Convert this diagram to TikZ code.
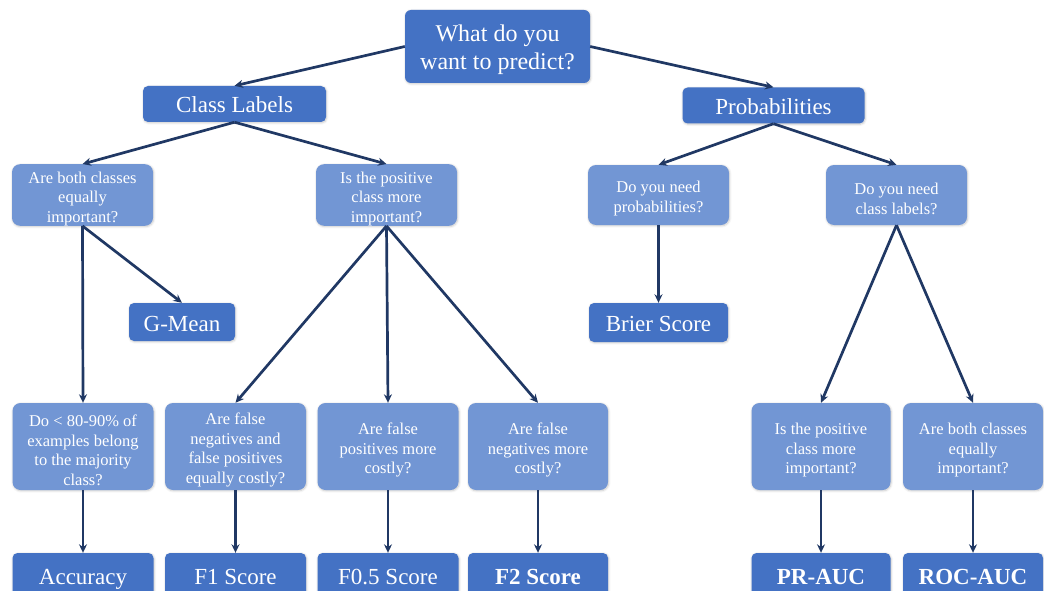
\documentclass[tikz,border=0pt]{standalone}
\usepackage{fontspec}
\setmainfont{Liberation Serif}
\usetikzlibrary{arrows.meta,shadows.blur}
\definecolor{boxdark}{RGB}{68,114,196}
\definecolor{boxlight}{RGB}{114,150,212}
\definecolor{linknavy}{RGB}{32,56,100}
% invisible struts that lower the text block of the multi-line boxes a little
\newcommand\asktop{\rule{0pt}{19pt}}
\newcommand\roottop{\rule{0pt}{24pt}}
\tikzset{
  base/.style={rectangle, text=white, inner sep=0pt, anchor=center,
    blur shadow={shadow blur steps=6, shadow xshift=0.6pt, shadow yshift=-0.8pt,
      shadow opacity=22, shadow blur radius=2.2pt}},
  topic/.style={base, fill=boxdark, rounded corners=5pt,
    font=\fontsize{23}{27}\selectfont, text height=22pt, text depth=4pt},
  ask/.style={base, fill=boxlight, rounded corners=8pt,
    font=\fontsize{16.5}{19.5}\selectfont, align=center},
  qsize/.style={minimum width=141pt, minimum height=60pt},
  rsize/.style={minimum width=141pt, minimum height=87pt},
  msize/.style={minimum width=141pt, minimum height=44pt},
  link/.style={draw=linknavy, line width=2.7pt, -{Stealth[length=8.5pt,width=8pt]}},
}
\begin{document}
\begin{tikzpicture}[x=1pt,y=-1pt]
\useasboundingbox (0,0) rectangle (1044,591);

% root question
\node[base, fill=boxdark, rounded corners=6pt, minimum width=185pt, minimum height=73pt,
  font=\fontsize{24}{28}\selectfont, align=center] (root) at (497.5,46.5)
  {\roottop What do you\\want to predict?};

% first split
\node[topic, minimum width=183pt, minimum height=36pt] (cl) at (234.5,104) {Class Labels};
\node[topic, minimum width=182pt, minimum height=36pt] (pr) at (773.5,105.5) {Probabilities};

% second level questions
\node[ask, qsize] (q1) at (82.5,195) {\asktop Are both classes\\equally\\important?};
\node[ask, qsize] (q2) at (386.5,195) {\asktop Is the positive\\class more\\important?};
\node[ask, qsize] (q3) at (658.5,195) {\asktop Do you need\\probabilities?};
\node[ask, qsize] (q4) at (896.5,195) {\asktop Do you need\\class labels?};

% middle metrics
\node[topic, minimum width=106pt, minimum height=38pt] (gm) at (182,322) {G-Mean};
\node[topic, minimum width=139pt, minimum height=39pt] (bs) at (658.5,322.5) {Brier Score};

% third level questions
\node[ask, rsize] (q5) at (83,446.5) {\asktop Do < 80-90\% of\\examples belong\\to the majority\\class?};
\node[ask, rsize] (q6) at (235.5,446.5) {\asktop Are false\\negatives and\\false positives\\equally costly?};
\node[ask, rsize] (q7) at (388,446.5) {\asktop Are false\\positives more\\costly?};
\node[ask, rsize, minimum width=140pt] (q8) at (538,446.5) {\asktop Are false\\negatives more\\costly?};
\node[ask, rsize, minimum width=139pt] (q9) at (821,446.5) {\asktop Is the positive\\class more\\important?};
\node[ask, rsize, minimum width=140pt] (q10) at (973,446.5) {\asktop Are both classes\\equally\\important?};

% final metrics
\node[topic, msize] (m1) at (83,575) {Accuracy};
\node[topic, msize] (m2) at (235.5,575) {F1 Score};
\node[topic, msize] (m3) at (388,575) {F0.5 Score};
\node[topic, msize, minimum width=140pt] (m4) at (538,575) {\textbf{F2 Score}};
\node[topic, msize, minimum width=139pt] (m5) at (821,575) {\textbf{PR-AUC}};
\node[topic, msize, minimum width=140pt] (m6) at (973,575) {\textbf{ROC-AUC}};

% connectors
\draw[link] (root.west) -- (cl.north);
\draw[link] (root.east) -- (pr.north);
\draw[link] (cl.south) -- (q1.north);
\draw[link] (cl.south) -- (q2.north);
\draw[link] (pr.south) -- (q3.north);
\draw[link] (pr.south) -- (q4.north);
\draw[link] (q1.south) -- (gm.north);
\draw[link] (q1.south) -- (q5.north);
\draw[link] (q2.south) -- (q6.north);
\draw[link] (q2.south) -- (q7.north);
\draw[link] (q2.south) -- (q8.north);
\draw[link] (q3.south) -- (bs.north);
\draw[link] (q4.south) -- (q9.north);
\draw[link] (q4.south) -- (q10.north);
\draw[link] (q5.south) -- (m1.north);
\draw[link] (q6.south) -- (m2.north);
\draw[link] (q7.south) -- (m3.north);
\draw[link] (q8.south) -- (m4.north);
\draw[link] (q9.south) -- (m5.north);
\draw[link] (q10.south) -- (m6.north);
\end{tikzpicture}
\end{document}
